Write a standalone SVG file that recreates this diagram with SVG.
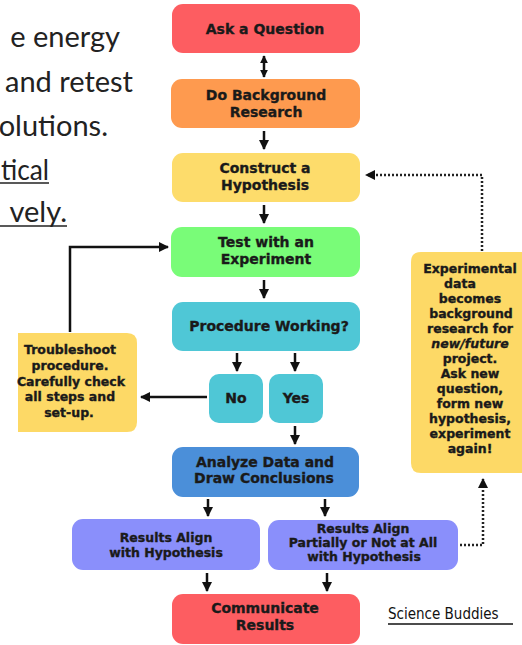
<svg xmlns="http://www.w3.org/2000/svg" width="522" height="645" viewBox="0 0 522 645">
<defs>
<marker id="ah" viewBox="0 0 10 10" refX="9" refY="5" markerWidth="10" markerHeight="10" markerUnits="userSpaceOnUse" orient="auto-start-reverse">
<path d="M0,0 L10,5 L0,10 Z" fill="#111"/>
</marker>
<marker id="ah2" viewBox="0 0 10 10" refX="9" refY="5" markerWidth="8" markerHeight="8" markerUnits="userSpaceOnUse" orient="auto-start-reverse">
<path d="M0,0 L10,5 L0,10 Z" fill="#111"/>
</marker>
<style>
.box{stroke:none}
.t{font-family:"DejaVu Sans",Verdana,sans-serif;font-weight:bold;font-size:14px;fill:#1a1a1a;stroke:#1a1a1a;stroke-width:0.35;text-anchor:middle}
.s{font-size:12.5px}
.side{font-family:Lato,"Open Sans",sans-serif;font-size:29px;fill:#222}
.c{fill:none;stroke:#111;stroke-width:2.5}
.d{fill:none;stroke:#222;stroke-width:2.5;stroke-dasharray:2 2}
</style>
</defs>
<rect width="522" height="645" fill="#fff"/>
<g id="side-text">
<text class="side" x="120" y="47" text-anchor="end">e energy</text>
<text class="side" x="133" y="92" text-anchor="end">and retest</text>
<text class="side" x="108" y="136" text-anchor="end">olutions.</text>
<text class="side" x="1" y="180" textLength="48" lengthAdjust="spacingAndGlyphs">tical</text>
<line x1="0" y1="183" x2="49" y2="183" stroke="#222" stroke-width="1.5"/>
<text class="side" x="67" y="222" text-anchor="end">vely.</text>
<line x1="0" y1="226" x2="67" y2="226" stroke="#222" stroke-width="1.5"/>
</g>
<g id="connectors">
<line class="c" x1="264" y1="56" x2="264" y2="77" marker-start="url(#ah2)" marker-end="url(#ah2)"/>
<line class="c" x1="264" y1="131" x2="264" y2="149" marker-end="url(#ah)"/>
<line class="c" x1="264" y1="205" x2="264" y2="223" marker-end="url(#ah)"/>
<line class="c" x1="264" y1="280" x2="264" y2="298" marker-end="url(#ah)"/>
<line class="c" x1="237" y1="353" x2="237" y2="371" marker-end="url(#ah)"/>
<line class="c" x1="295" y1="353" x2="295" y2="371" marker-end="url(#ah)"/>
<line class="c" x1="295" y1="426" x2="295" y2="444" marker-end="url(#ah)"/>
<line class="c" x1="208" y1="499" x2="208" y2="516" marker-end="url(#ah)"/>
<line class="c" x1="325" y1="499" x2="325" y2="516" marker-end="url(#ah)"/>
<line class="c" x1="207" y1="573" x2="207" y2="591" marker-end="url(#ah)"/>
<line class="c" x1="327" y1="573" x2="327" y2="591" marker-end="url(#ah)"/>
<line class="c" x1="207" y1="397" x2="141" y2="397" marker-end="url(#ah)"/>
<polyline class="c" points="70,332 70,247 168,247" marker-end="url(#ah)"/>
<polyline class="d" points="482,251 482,175 366,175" marker-end="url(#ah)"/>
<polyline class="d" points="460,545 483,545 483,479" marker-end="url(#ah)"/>
</g>
<g id="ask">
<rect class="box" x="172" y="4" width="188" height="49" rx="11" fill="#fd5d61"/>
<text class="t" x="265" y="34">Ask a Question</text>
</g>
<g id="background">
<rect class="box" x="171" y="79" width="189" height="49" rx="11" fill="#fe9a4f"/>
<text class="t" x="266" y="100">Do Background</text>
<text class="t" x="266" y="117">Research</text>
</g>
<g id="hypothesis">
<rect class="box" x="172" y="153" width="188" height="49" rx="11" fill="#fddc6b"/>
<text class="t" x="265" y="173">Construct a</text>
<text class="t" x="265" y="190">Hypothesis</text>
</g>
<g id="experiment">
<rect class="box" x="171" y="227" width="189" height="50" rx="11" fill="#79fc78"/>
<text class="t" x="266" y="247">Test with an</text>
<text class="t" x="266" y="264">Experiment</text>
</g>
<g id="procedure">
<rect class="box" x="172" y="302" width="188" height="49" rx="11" fill="#4fc7d6"/>
<text class="t" x="269" y="331">Procedure Working?</text>
</g>
<g id="no">
<rect class="box" x="209" y="374" width="54" height="49" rx="10" fill="#4fc7d6"/>
<text class="t" x="236" y="403">No</text>
</g>
<g id="yes">
<rect class="box" x="269" y="374" width="54" height="49" rx="10" fill="#4fc7d6"/>
<text class="t" x="296" y="403">Yes</text>
</g>
<g id="troubleshoot">
<path class="box" d="M18,333 H127 Q137,333 137,343 V422 Q137,432 127,432 H18 Z" fill="#fdd966"/>
<text class="t s" x="70" y="354">Troubleshoot</text>
<text class="t s" x="70" y="370">procedure.</text>
<text class="t s" x="71" y="386">Carefully check</text>
<text class="t s" x="70" y="401">all steps and</text>
<text class="t s" x="69" y="417">set-up.</text>
</g>
<g id="analyze">
<rect class="box" x="172" y="447" width="187" height="50" rx="11" fill="#4b8fd9"/>
<text class="t" x="265" y="467">Analyze Data and</text>
<text class="t" x="264" y="483">Draw Conclusions</text>
</g>
<g id="align">
<rect class="box" x="72" y="519" width="188" height="51" rx="11" fill="#8a8ffb"/>
<text class="t s" x="166" y="542">Results Align</text>
<text class="t s" x="166" y="557">with Hypothesis</text>
</g>
<g id="partial">
<rect class="box" x="268" y="520" width="190" height="50" rx="11" fill="#8a8ffb"/>
<text class="t s" x="363" y="533">Results Align</text>
<text class="t s" x="363" y="547">Partially or Not at All</text>
<text class="t s" x="364" y="561">with Hypothesis</text>
</g>
<g id="communicate">
<rect class="box" x="172" y="594" width="188" height="50" rx="11" fill="#fd5d61"/>
<text class="t" x="265" y="613">Communicate</text>
<text class="t" x="265" y="630">Results</text>
</g>
<g id="future">
<path class="box" d="M522,252 H421 Q411,252 411,262 V463 Q411,473 421,473 H522 Z" fill="#fdd966"/>
<text class="t s" x="470" y="273">Experimental</text>
<text class="t s" x="460" y="288">data</text>
<text class="t s" x="470" y="303">becomes</text>
<text class="t s" x="471" y="318">background</text>
<text class="t s" x="470" y="333">research for</text>
<text class="t s" x="470" y="348" font-style="italic">new/future</text>
<text class="t s" x="470" y="363">project.</text>
<text class="t s" x="470" y="378">Ask new</text>
<text class="t s" x="470" y="393">question,</text>
<text class="t s" x="470" y="408">form new</text>
<text class="t s" x="470" y="423">hypothesis,</text>
<text class="t s" x="470" y="438">experiment</text>
<text class="t s" x="470" y="453">again!</text>
</g>
<g id="credit">
<text x="388" y="619" font-family="'DejaVu Sans Condensed','DejaVu Sans',sans-serif" font-size="15" fill="#111">Science Buddies</text>
<line x1="388" y1="624" x2="513" y2="624" stroke="#111" stroke-width="1.5"/>
</g>
</svg>
